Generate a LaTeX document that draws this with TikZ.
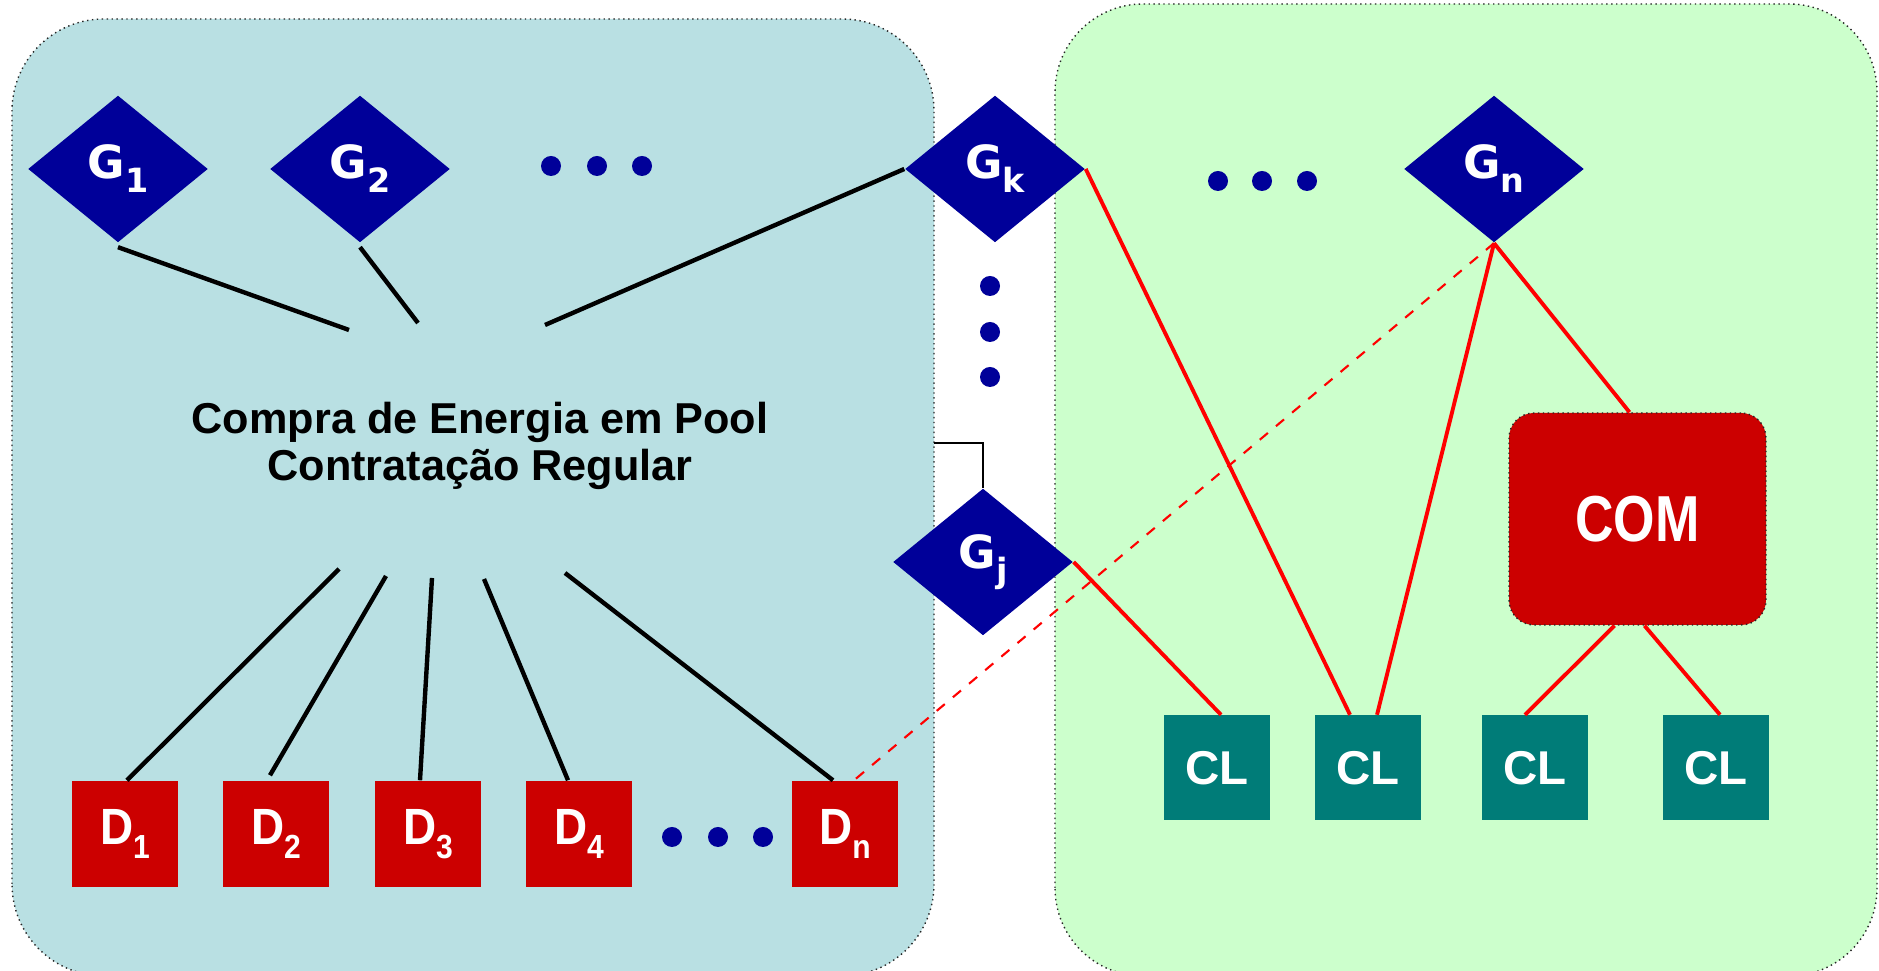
\documentclass[tikz,border=0pt]{standalone}
\usepackage{fontspec}
\setmainfont{Liberation Sans}
\newfontfamily\genfont{DejaVu Sans}
\usetikzlibrary{shapes.geometric}

\definecolor{poolblue}{HTML}{B9E0E3}
\definecolor{freegreen}{HTML}{CCFFCC}
\definecolor{gennavy}{HTML}{000099}
\definecolor{distred}{HTML}{CC0000}
\definecolor{clteal}{HTML}{007C78}

% letter with a lowered index
\newcommand{\idx}[2]{#1\raisebox{-4pt}{\fontsize{9.5}{9.5}\selectfont #2}}
\newcommand{\dlbl}[1]{\scalebox{0.9}[1]{\idx{D}{#1}}}

\begin{document}
\begin{tikzpicture}[
        gen/.style={diamond, fill=gennavy, text=white, inner sep=0pt,
            minimum width=1.8cm, minimum height=1.47cm,
            font=\genfont\bfseries\fontsize{13}{13}\selectfont},
        dist/.style={rectangle, fill=distred, text=white, inner sep=0pt,
            minimum size=1.06cm, font=\bfseries\fontsize{14.5}{14.5}\selectfont},
        cli/.style={rectangle, fill=clteal, text=white, inner sep=0pt,
            minimum width=1.06cm, minimum height=1.05cm,
            font=\bfseries\fontsize{13.5}{13.5}\selectfont},
        link/.style={black, line width=1.25pt},
        rlink/.style={red, line width=1.1pt}
    ]
        \useasboundingbox (0,0) rectangle (18.79,9.71);

        % Draw the two markets
        \filldraw[fill=poolblue, draw=black!85, densely dotted, thin, rounded corners=0.92cm]
            (0.12,-0.05) rectangle (9.34,9.52);
        \filldraw[fill=freegreen, draw=black!85, densely dotted, thin, rounded corners=0.88cm]
            (10.55,-0.05) rectangle (18.77,9.67);

        % Generators
        \node[gen] (G1) at (1.18,8.02) {\idx{G}{1}};
        \node[gen] (G2) at (3.60,8.02) {\idx{G}{2}};
        \node[gen] (Gk) at (9.95,8.02) {\idx{G}{k}};
        \node[gen] (Gn) at (14.94,8.02) {\idx{G}{n}};
        \node[gen] (Gj) at (9.83,4.09) {\idx{G}{j}};

        % Dots
        \foreach \x in {5.51,5.97,6.42} \fill[gennavy] (\x,8.05) circle (0.1);
        \foreach \x in {12.18,12.62,13.07} \fill[gennavy] (\x,7.90) circle (0.1);
        \foreach \y in {6.85,6.39,5.94} \fill[gennavy] (9.90,\y) circle (0.1);
        \foreach \x in {6.72,7.18,7.63} \fill[gennavy] (\x,1.34) circle (0.1);

        % Pool
        \node[align=center, font=\bfseries\fontsize{12.3}{13.6}\selectfont] (pool) at (4.80,5.25)
            {Compra de Energia em Pool\\Contrata\c{c}\~ao Regular};

        % Distributors
        \node[dist] (D1) at (1.25,1.37) {\dlbl{1}};
        \node[dist] (D2) at (2.76,1.37) {\dlbl{2}};
        \node[dist] (D3) at (4.28,1.37) {\dlbl{3}};
        \node[dist] (D4) at (5.79,1.37) {\dlbl{4}};
        \node[dist] (Dn) at (8.45,1.37) {\dlbl{n}};

        % Free market
        \node[rectangle, fill=distred, draw=black!85, densely dotted, thin, rounded corners=0.25cm,
            minimum width=2.57cm, minimum height=2.12cm, text=white,
            font=\bfseries\fontsize{18.5}{18.5}\selectfont] (COM) at (16.375,4.52) {\scalebox{0.82}[1]{COM}};
        \node[cli] (CL1) at (12.17,2.03) {CL};
        \node[cli] (CL2) at (13.68,2.03) {CL};
        \node[cli] (CL3) at (15.35,2.03) {CL};
        \node[cli] (CL4) at (17.16,2.03) {CL};

        % Free ends near the pool text
        \coordinate (g1end) at (3.49,6.41);
        \coordinate (g2end) at (4.18,6.48);
        \coordinate (gkend) at (5.45,6.46);
        \coordinate (d1end) at (3.39,4.02);
        \coordinate (d2end) at (3.86,3.95);
        \coordinate (d3end) at (4.32,3.93);
        \coordinate (d4end) at (4.84,3.92);
        \coordinate (dnend) at (5.65,3.98);
        \coordinate (gjend) at (9.34,5.28);

        % Pool links
        \draw[link] ([yshift=-0.04cm]G1.south) -- (g1end);
        \draw[link] ([yshift=-0.04cm]G2.south) -- (g2end);
        \draw[link] (Gk.west) -- (gkend);
        \draw[link] ([xshift=0.02cm]D1.north) -- (d1end);
        \draw[link] ([xshift=-0.06cm,yshift=0.05cm]D2.north) -- (d2end);
        \draw[link] ([xshift=-0.08cm]D3.north) -- (d3end);
        \draw[link] ([xshift=-0.11cm]D4.north) -- (d4end);
        \draw[link] ([xshift=-0.12cm]Dn.north) -- (dnend);
        \draw[black, semithick] (gjend) -| (Gj.north);

        % Bilateral links
        \draw[rlink] (Gk.east) -- ([xshift=-0.18cm]CL2.north);
        \draw[rlink] (Gn.south) -- ([xshift=0.09cm]CL2.north);
        \draw[rlink] (Gn.south) -- ([xshift=-0.08cm]COM.north);
        \draw[rlink] (Gj.east) -- ([xshift=0.04cm]CL1.north);
        \draw[rlink] ([xshift=-0.23cm]COM.south) -- ([xshift=-0.10cm]CL3.north);
        \draw[rlink] ([xshift=0.07cm]COM.south) -- ([xshift=0.04cm]CL4.north);
        \draw[red, semithick, dashed] (Gn.south) -- ([xshift=0.09cm]Dn.north);
    \end{tikzpicture}
\end{document}
